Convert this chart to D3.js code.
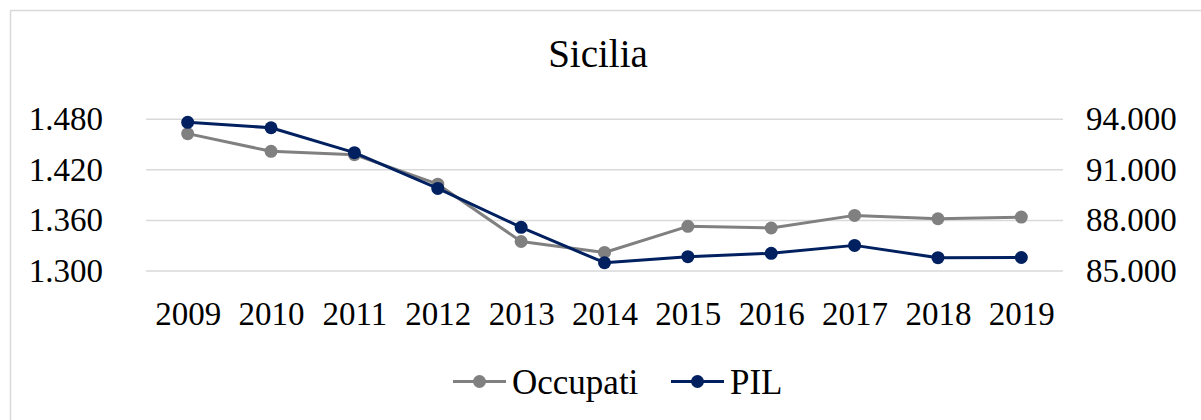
<!DOCTYPE html>
<html>
<head>
<meta charset="utf-8">
<script src="https://cdn.jsdelivr.net/npm/d3@7"></script>
<style>
  html, body { margin: 0; padding: 0; background: #fff; }
  svg { display: block; font-family: "Liberation Serif", "DejaVu Serif", serif; }
</style>
</head>
<body>
<div id="chart"></div>
<script>
// dati
var years = ["2009", "2010", "2011", "2012", "2013", "2014", "2015", "2016", "2017", "2018", "2019"];
var occupati = [1463, 1442, 1438, 1403, 1335, 1322, 1353, 1351, 1366, 1362, 1364];
var pil = [93820, 93500, 92020, 89900, 87590, 85490, 85850, 86050, 86520, 85790, 85800];
var leftTicks = [1300, 1360, 1420, 1480];
var rightTicks = [85000, 88000, 91000, 94000];

var width = 1201, height = 420;
var margin = { top: 119.3, right: 138, bottom: 149, left: 146 };

var it = d3.formatLocale({ decimal: ",", thousands: ".", grouping: [3], currency: ["€", ""] });
var fmt = it.format(",");

var svg = d3.select("#chart").append("svg")
  .attr("width", width)
  .attr("height", height);

// cornice
svg.append("rect")
  .attr("x", 10.5).attr("y", 10.5)
  .attr("width", width + 20).attr("height", height + 20)
  .attr("fill", "none")
  .attr("stroke", "#d9d9d9")
  .attr("stroke-width", 1.5);

var x = d3.scalePoint()
  .domain(years)
  .range([margin.left, width - margin.right])
  .padding(0.5);

var yL = d3.scaleLinear()
  .domain([1300, 1480])
  .range([271, margin.top]);

var yR = d3.scaleLinear()
  .domain([85000, 94000])
  .range([271, margin.top]);

// titolo
svg.append("text")
  .attr("x", 598)
  .attr("y", 67)
  .attr("text-anchor", "middle")
  .attr("font-size", 39)
  .attr("fill", "#000")
  .text("Sicilia");

// griglia
svg.append("g")
  .selectAll("line")
  .data(leftTicks)
  .enter().append("line")
  .attr("x1", margin.left)
  .attr("x2", width - margin.right)
  .attr("y1", function(d) { return yL(d); })
  .attr("y2", function(d) { return yL(d); })
  .attr("stroke", "#d9d9d9")
  .attr("stroke-width", 1.5);

function styleAxis(g) {
  g.attr("font-family", null).attr("font-size", null);
  g.select(".domain").remove();
  g.selectAll("text").attr("font-size", 33).attr("fill", "#000");
}

// asse sinistro
svg.append("g")
  .attr("transform", "translate(" + (margin.left - 43) + ",0)")
  .call(d3.axisLeft(yL).tickValues(leftTicks).tickFormat(fmt).tickSize(0).tickPadding(0))
  .call(styleAxis);

// asse destro
svg.append("g")
  .attr("transform", "translate(" + (width - margin.right + 23) + ",0)")
  .call(d3.axisRight(yR).tickValues(rightTicks).tickFormat(fmt).tickSize(0).tickPadding(0))
  .call(styleAxis);

// asse anni
svg.append("g")
  .attr("transform", "translate(0,302)")
  .call(d3.axisBottom(x).tickSize(0).tickPadding(0))
  .call(styleAxis);

var series = [
  { name: "Occupati", values: occupati, y: yL, color: "#808080" },
  { name: "PIL", values: pil, y: yR, color: "#002060" }
];

series.forEach(function(s) {
  var line = d3.line()
    .x(function(d, i) { return x(years[i]); })
    .y(function(d) { return s.y(d); });

  svg.append("path")
    .datum(s.values)
    .attr("fill", "none")
    .attr("stroke", s.color)
    .attr("stroke-width", 3)
    .attr("stroke-linejoin", "round")
    .attr("d", line);

  svg.append("g")
    .selectAll("circle")
    .data(s.values)
    .enter().append("circle")
    .attr("cx", function(d, i) { return x(years[i]); })
    .attr("cy", function(d) { return s.y(d); })
    .attr("r", 6.5)
    .attr("fill", s.color);
});

// legenda
var legendX = [453, 671];
var legend = svg.append("g")
  .selectAll("g")
  .data(series)
  .enter().append("g")
  .attr("transform", function(d, i) { return "translate(" + legendX[i] + ",381.5)"; });

legend.append("line")
  .attr("x1", 0).attr("x2", 53)
  .attr("stroke", function(d) { return d.color; })
  .attr("stroke-width", 3);
legend.append("circle")
  .attr("cx", 26.5).attr("r", 6.5)
  .attr("fill", function(d) { return d.color; });
legend.append("text")
  .attr("x", 59)
  .attr("dy", "0.35em")
  .attr("font-size", 35)
  .text(function(d) { return d.name; });
</script>
</body>
</html>
